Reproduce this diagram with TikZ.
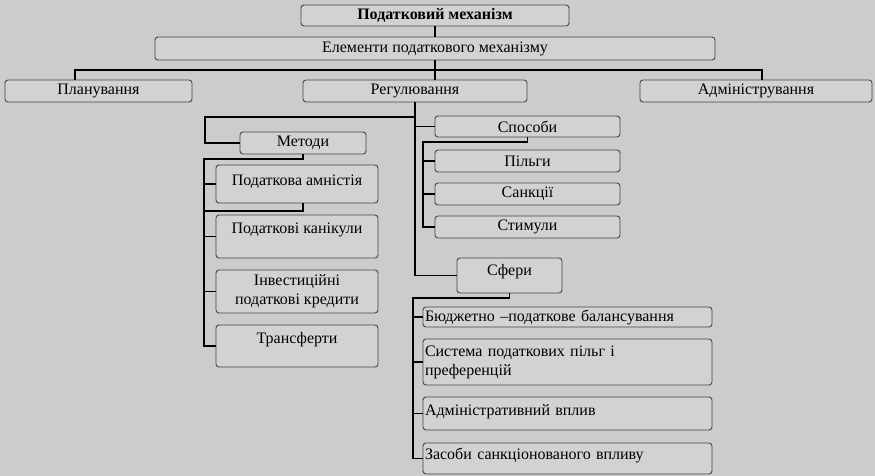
\documentclass[tikz,border=0pt]{standalone}
\usepackage{fontspec}
\setmainfont{Liberation Serif}
\usetikzlibrary{calc}
\definecolor{paper}{RGB}{204,204,204}
\definecolor{boxfill}{RGB}{210,210,210}
\definecolor{boxline}{RGB}{70,70,70}

\begin{document}
\begin{tikzpicture}[
		x=1pt, y=-1pt,
		font=\fontsize{16}{19}\selectfont,
		% Box styles
		block/.style={
			draw=boxline, fill=boxfill,
			rounded corners=3pt,
			line width=0.9pt,
			inner sep=2pt,
			align=center
		},
		wide/.style 2 args={minimum width=#1, minimum height=#2},
		lefttext/.style={align=left, text width=#1},
		toptext/.style 2 args={text height=#1, text depth=#2},
		link/.style={line width=1.7pt, color=black}
	]

	\useasboundingbox (0,0) rectangle (875,476);
	\fill[paper] (0,0) rectangle (875,476);

	% Top levels
	\node[block, wide={268}{21}] (mech) at (435,15.5) {\textbf{Податковий механізм}};
	\node[block, wide={560}{23}] (elem) at (435,48.5) {Елементи податкового механізму};
	\node[block, wide={187}{22}] (plan) at (98.5,91) {Планування};
	\node[block, wide={224}{22}] (reg) at (415,91) {Регулювання};
	\node[block, wide={232}{22}] (adm) at (756,91) {Адміністрування};

	% Methods
	\node[block, wide={126}{22}] (met) at (303,143) {Методи};
	\node[block, wide={162}{38}, toptext={18pt}{16pt}] (amn) at (297,184) {Податкова амністія};
	\node[block, wide={162}{43}, toptext={16pt}{23pt}] (hol) at (297,236.5) {Податкові канікули};
	\node[block, wide={162}{43}] (inv) at (297,291.5) {Інвестиційні\\податкові кредити};
	\node[block, wide={162}{42}, toptext={16pt}{22pt}] (trn) at (297,346) {Трансферти};

	% Ways
	\node[block, wide={185}{21}] (way) at (527.5,126.5) {Способи};
	\node[block, wide={185}{22}] (ben) at (527.5,161) {Пільги};
	\node[block, wide={185}{22}] (snc) at (527.5,194) {Санкції};
	\node[block, wide={185}{22}] (stm) at (527.5,227) {Стимули};

	% Spheres
	\node[block, wide={105}{35}, toptext={15pt}{16pt}] (sph) at (509.5,275.5) {Сфери};
	\node[block, lefttext={285pt}, wide={289}{20}] (bud) at (567.5,317) {Бюджетно –податкове балансування};
	\node[block, lefttext={285pt}, wide={289}{46}] (sys) at (567.5,362) {Система податкових пільг і\\преференцій};
	\node[block, lefttext={285pt}, wide={289}{33}, toptext={16pt}{13pt}] (adv) at (567.5,413.5) {Адміністративний вплив};
	\node[block, lefttext={285pt}, wide={289}{31}, toptext={14pt}{13pt}] (snm) at (567.5,458.5) {Засоби санкціонованого впливу};

	% Connectors
	\coordinate (busL) at (75,70);
	\coordinate (busR) at (762,70);
	\draw[link] (mech.south) -- (elem.north);
	\draw[link] (elem.south) -- (elem.south |- reg.north);
	\draw[link] (plan.north -| busL) -- (busL) -- (busR) -- (busR |- adm.north);

	% Regulation branches
	\coordinate (regL) at (205,117);
	\draw[link] (reg.south) |- (sph.west);
	\draw[link] (reg.south |- way.west) -- (way.west);
	\draw[link] (reg.south |- regL) -- (regL) |- (met.west);

	% Methods branches
	\coordinate (metT) at (204,159);
	\coordinate (metM) at (204,211);
	\draw[link] (met.south) -- (met.south |- metT) -- (metT) |- (trn.west);
	\foreach \n in {amn,hol,inv}
		\draw[link] (metT |- \n.west) -- (\n.west);
	\draw[link] (metM) -- (metM -| met.south) -- (met.south |- amn.south);

	% Ways branches
	\coordinate (wayT) at (423,142);
	\draw[link] (way.south) -- (way.south |- wayT) -- (wayT) |- (stm.west);
	\foreach \n in {ben,snc}
		\draw[link] (wayT |- \n.west) -- (\n.west);

	% Spheres branches
	\coordinate (sphT) at (413,298);
	\draw[link] (sph.south) -- (sph.south |- sphT) -- (sphT) |- (snm.west);
	\foreach \n in {bud,sys,adv}
		\draw[link] (sphT |- \n.west) -- (\n.west);

\end{tikzpicture}
\end{document}
